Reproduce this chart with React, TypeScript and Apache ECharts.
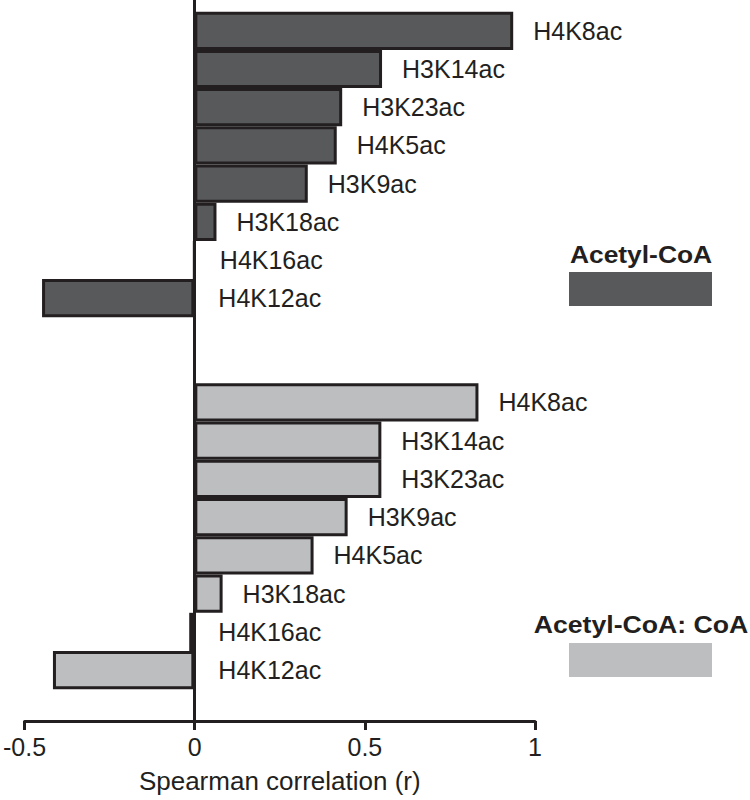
import React, { useEffect, useRef } from "react";
import * as echarts from "echarts";

const topCategories = ["H4K8ac", "H3K14ac", "H3K23ac", "H4K5ac", "H3K9ac", "H3K18ac", "H4K16ac", "H4K12ac"];
const topValues = [0.936, 0.551, 0.434, 0.418, 0.333, 0.065, 0, -0.447];

const bottomCategories = ["H4K8ac", "H3K14ac", "H3K23ac", "H3K9ac", "H4K5ac", "H3K18ac", "H4K16ac", "H4K12ac"];
const bottomValues = [0.834, 0.549, 0.549, 0.45, 0.35, 0.083, -0.015, -0.415];

const seriesNames = ["Acetyl-CoA", "Acetyl-CoA: CoA"];
const xTicks = { min: -0.5, max: 1, interval: 0.5 };
const axisTitle = "Spearman correlation (r)";

const FONT = '"Liberation Sans", Arial, Helvetica, sans-serif';
const INK = "#231f20";
const DARK = "#58595b";
const LIGHT = "#bcbec0";

export default function App() {
  const ref = useRef<HTMLDivElement>(null);

  useEffect(() => {
    document.body.style.margin = "0";
    if (!ref.current) return;
    const chart = echarts.init(ref.current, null, { renderer: "svg" });

    const gridLeft = 24;
    const gridRight = 215;

    const hiddenX = (gridIndex: number) => ({
      type: "value" as const,
      gridIndex,
      min: xTicks.min,
      max: xTicks.max,
      interval: xTicks.interval,
      show: false,
    });

    const hiddenY = (gridIndex: number, cats: string[]) => ({
      type: "category" as const,
      gridIndex,
      data: cats,
      inverse: true,
      show: false,
    });

    const barLabel = {
      show: true,
      position: "right" as const,
      distance: 20,
      formatter: "{b}",
      fontSize: 25,
      fontFamily: FONT,
      color: INK,
    };

    const mkData = (vals: number[]) =>
      vals.map((v) =>
        v <= 0 ? { value: v, label: { distance: 24 } } : { value: v }
      );

    chart.setOption({
      animation: false,
      backgroundColor: "#ffffff",
      grid: [
        { left: gridLeft, right: gridRight, top: 11.7, height: 305.6 },
        { left: gridLeft, right: gridRight, top: 383.3, height: 306 },
        { left: gridLeft, right: gridRight, top: 0, height: 721 },
      ],
      xAxis: [
        hiddenX(0),
        hiddenX(1),
        {
          type: "value",
          gridIndex: 2,
          min: xTicks.min,
          max: xTicks.max,
          interval: xTicks.interval,
          name: axisTitle,
          nameLocation: "middle",
          nameGap: 47,
          nameTextStyle: { fontSize: 26, fontFamily: FONT, color: INK },
          axisLine: { show: true, onZero: false, lineStyle: { color: INK, width: 3 } },
          axisTick: { show: true, length: 9, lineStyle: { color: INK, width: 3 } },
          axisLabel: { fontSize: 25, fontFamily: FONT, color: INK, margin: 13 },
          splitLine: { show: false },
        },
      ],
      yAxis: [
        hiddenY(0, topCategories),
        hiddenY(1, bottomCategories),
        {
          type: "value",
          gridIndex: 2,
          min: 0,
          max: 1,
          axisLine: { show: true, onZero: true, lineStyle: { color: INK, width: 3 } },
          axisTick: { show: false },
          axisLabel: { show: false },
          splitLine: { show: false },
        },
      ],
      series: [
        {
          name: seriesNames[0],
          type: "bar",
          xAxisIndex: 0,
          yAxisIndex: 0,
          data: mkData(topValues),
          barWidth: "100%",
          itemStyle: { color: DARK, borderColor: INK, borderWidth: 3 },
          label: barLabel,
          z: 3,
        },
        {
          name: seriesNames[1],
          type: "bar",
          xAxisIndex: 1,
          yAxisIndex: 1,
          data: mkData(bottomValues),
          barWidth: "100%",
          itemStyle: { color: LIGHT, borderColor: INK, borderWidth: 3 },
          label: barLabel,
          z: 3,
        },
      ],
      graphic: [
        {
          type: "text",
          x: 641,
          y: 254,
          scaleX: 1.1,
          style: {
            text: seriesNames[0],
            x: 0,
            y: 0,
            align: "center",
            verticalAlign: "middle",
            font: `bold 24px ${FONT}`,
            fill: INK,
          },
        },
        {
          type: "rect",
          shape: { x: 569, y: 272, width: 143, height: 34 },
          style: { fill: DARK },
        },
        {
          type: "text",
          x: 641,
          y: 624.5,
          scaleX: 1.11,
          style: {
            text: seriesNames[1],
            x: 0,
            y: 0,
            align: "center",
            verticalAlign: "middle",
            font: `bold 24px ${FONT}`,
            fill: INK,
          },
        },
        {
          type: "rect",
          shape: { x: 569, y: 643, width: 143, height: 34 },
          style: { fill: LIGHT },
        },
      ],
    });

    return () => chart.dispose();
  }, []);

  return <div ref={ref} style={{ width: 750, height: 800 }} />;
}
